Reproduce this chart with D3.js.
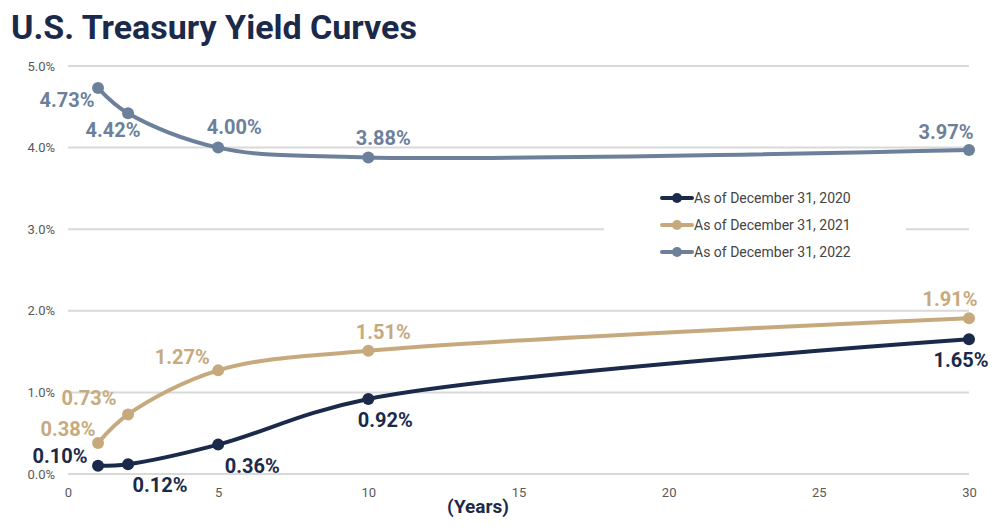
<!DOCTYPE html>
<html>
<head>
<meta charset="utf-8">
<script src="https://cdn.jsdelivr.net/npm/d3@7"></script>
<style>
  body { margin: 0; background: #fff; }
  text { font-family: Roboto, "Noto Sans", sans-serif; }
</style>
</head>
<body>
<div id="chart"></div>
<script>
// maturities in years
var maturities = [1, 2, 5, 10, 30];
var yields2020 = [0.10, 0.12, 0.36, 0.92, 1.65];
var yields2021 = [0.38, 0.73, 1.27, 1.51, 1.91];
var yields2022 = [4.73, 4.42, 4.00, 3.88, 3.97];
var seriesNames = ["As of December 31, 2020", "As of December 31, 2021", "As of December 31, 2022"];
var xTicks = [0, 5, 10, 15, 20, 25, 30];
var yTicks = [0, 1, 2, 3, 4, 5];

var colors = ["#1b2a4a", "#c6aa7e", "#6c7f9b"];
// label offsets (dx, dy) relative to each point
var labelOffsets = [
    [[-38, -10], [32, 21], [34, 21], [17, 21], [-8, 21]],
    [[-30, -14], [-39, -16], [-36, -13], [15, -19], [-19, -19]],
    [[-31, 12], [-15, 17], [16, -21], [15, -19], [-23, -18]]
];

var width = 1006, height = 528;
var margin = {top: 66, right: 37, bottom: 54, left: 68};
var w = width - margin.left - margin.right,
    h = height - margin.top - margin.bottom;

var svg = d3.select("#chart").append("svg")
    .attr("width", width).attr("height", height);

svg.append("text")
    .attr("x", 11).attr("y", 39)
    .attr("font-size", 34).attr("font-weight", 700)
    .attr("fill", "#1b2a4a")
    .text("U.S. Treasury Yield Curves");

var g = svg.append("g").attr("transform", "translate(" + margin.left + "," + margin.top + ")");

var x = d3.scaleLinear().domain([0, 30]).range([0, w]);
var y = d3.scaleLinear().domain([0, 5]).range([h, 0]);

// gridlines
g.append("g").selectAll("line").data(yTicks).join("line")
    .attr("x1", 0).attr("x2", w)
    .attr("y1", d => y(d)).attr("y2", d => y(d))
    .attr("stroke", "#d9d9d9").attr("stroke-width", 2);

// y axis
var yAxis = g.append("g").call(d3.axisLeft(y).tickValues(yTicks).tickSize(0).tickPadding(13)
    .tickFormat(d => d.toFixed(1) + "%"));
yAxis.select(".domain").remove();
yAxis.selectAll("text").attr("font-size", 13).attr("fill", "#595959")
    .style("font-family", "Roboto, sans-serif");

// x axis
var xAxis = g.append("g").attr("transform", "translate(0," + h + ")")
    .call(d3.axisBottom(x).tickValues(xTicks).tickSize(0).tickPadding(14));
xAxis.select(".domain").remove();
xAxis.selectAll("text").attr("font-size", 13).attr("fill", "#595959")
    .style("font-family", "Roboto, sans-serif");

svg.append("text")
    .attr("x", 478).attr("y", 513)
    .attr("text-anchor", "middle")
    .attr("font-size", 19).attr("font-weight", 700)
    .attr("fill", "#1b2a4a")
    .text("(Years)");

// legend (white box hides the gridline behind)
var legend = svg.append("g").attr("transform", "translate(604,180)");
legend.append("rect").attr("width", 302).attr("height", 90).attr("fill", "#fff");
seriesNames.forEach(function(name, i) {
    var row = legend.append("g").attr("transform", "translate(58," + (18 + i * 27) + ")");
    row.append("line").attr("x1", 0).attr("x2", 30)
        .attr("stroke", colors[i]).attr("stroke-width", 4).attr("stroke-linecap", "round");
    row.append("circle").attr("cx", 15).attr("r", 5).attr("fill", colors[i]);
    row.append("text").attr("x", 32).attr("dy", "0.35em")
        .attr("font-size", 14).attr("fill", "#444")
        .text(name);
});

var allSeries = [yields2020, yields2021, yields2022];

// smooth lines
var line = d3.line()
    .x(d => x(d[0]))
    .y(d => y(d[1]))
    .curve(d3.curveCatmullRom.alpha(0.5));

allSeries.forEach(function(vals, i) {
    var data = maturities.map((m, j) => [m, vals[j]]);
    g.append("path").datum(data)
        .attr("fill", "none")
        .attr("stroke", colors[i])
        .attr("stroke-width", 4)
        .attr("d", line);
    g.selectAll(".pt" + i).data(data).join("circle")
        .attr("cx", d => x(d[0])).attr("cy", d => y(d[1]))
        .attr("r", 6).attr("fill", colors[i]);
    g.selectAll(".lb" + i).data(data).join("text")
        .attr("x", (d, j) => x(d[0]) + labelOffsets[i][j][0])
        .attr("y", (d, j) => y(d[1]) + labelOffsets[i][j][1])
        .attr("text-anchor", "middle").attr("dy", "0.35em")
        .attr("font-size", 20).attr("font-weight", 700)
        .attr("fill", colors[i])
        .text(d => d[1].toFixed(2) + "%");
});
</script>
</body>
</html>
